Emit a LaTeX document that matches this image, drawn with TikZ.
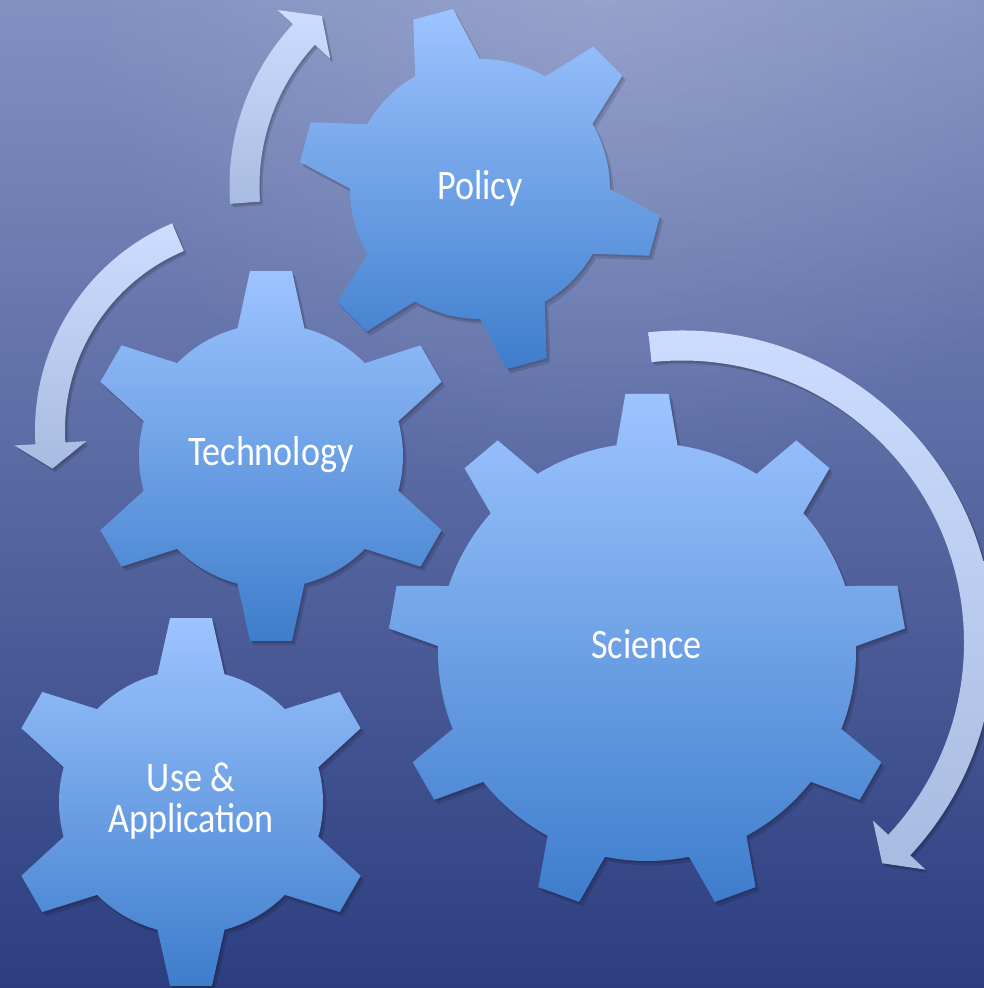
\documentclass[tikz,border=0pt]{standalone}
\usepackage{fontspec}
\setmainfont{Carlito}[FakeStretch=0.86]
\usetikzlibrary{fadings}
\tikzfading[name=glowfade, inner color=transparent!0, outer color=transparent!100]
\definecolor{bgtop}{RGB}{130,145,194}
\definecolor{bgmid}{RGB}{92,108,162}
\definecolor{bgbot}{RGB}{44,62,128}
\definecolor{gtop}{RGB}{157,196,255}
\definecolor{gbot}{RGB}{62,125,204}
\definecolor{atop}{RGB}{204,222,255}
\definecolor{abot}{RGB}{168,187,224}
\tikzset{
  geartext/.style={text=white, font=\fontsize{42}{40.5}\selectfont, inner sep=0pt, align=center},
  arrowfill/.style={top color=atop, bottom color=abot},
  shadowfill/.style={fill=black, opacity=0.13}
}
% gear outline around the current origin: r, R, n, start angle, base half-angle, outer half-angle
\newcommand\gearpath[6]{%
  ({#4-#5}:#1pt)
  \foreach \k in {1,...,#3}{
    -- ({#4+(\k-1)*360/#3-#6}:#2pt)
    -- ({#4+(\k-1)*360/#3+#6}:#2pt)
    -- ({#4+(\k-1)*360/#3+#5}:#1pt)
    arc[start angle={#4+(\k-1)*360/#3+#5}, end angle={#4+\k*360/#3-#5}, radius=#1pt]
  } -- cycle}
\newcommand\drawgear[8]{%
  \begin{scope}[shift={(#1+3.5,#2-4.5)}]\fill[shadowfill] \gearpath{#3}{#4}{#5}{#6}{#7}{#8};\end{scope}
  \begin{scope}[shift={(#1+1.5,#2-2)}]\fill[shadowfill] \gearpath{#3}{#4}{#5}{#6}{#7}{#8};\end{scope}
  \begin{scope}[shift={(#1,#2)}]\shade[top color=gtop, bottom color=gbot] \gearpath{#3}{#4}{#5}{#6}{#7}{#8};\end{scope}
}
% curved arrow around the current origin: rho, tail angle, head base angle, tip angle
\newcommand\arrowpath[4]{%
  (#2:{(#1+15)*1pt}) arc[start angle=#2, end angle=#3, radius={(#1+15)*1pt}]
  -- (#3:{(#1+36)*1pt}) -- (#4:{(#1+1)*1pt}) -- (#3:{(#1-36)*1pt}) -- (#3:{(#1-15)*1pt})
  arc[start angle=#3, end angle=#2, radius={(#1-15)*1pt}] -- cycle}
\newcommand\drawarrow[6]{%
  \begin{scope}[shift={(#1+3,#2-3.5)}]\fill[shadowfill] \arrowpath{#3}{#4}{#5}{#6};\end{scope}
  \begin{scope}[shift={(#1+1.5,#2-1.8)}]\fill[shadowfill] \arrowpath{#3}{#4}{#5}{#6};\end{scope}
  \begin{scope}[shift={(#1,#2)}]\shade[arrowfill] \arrowpath{#3}{#4}{#5}{#6};\end{scope}
}
\begin{document}
\begin{tikzpicture}[x=1pt, y=1pt]
  \useasboundingbox (0,0) rectangle (984,988);
  \shade[top color=bgtop, middle color=bgmid, bottom color=bgbot] (0,0) rectangle (984,988);
  \clip (0,0) rectangle (984,988);
  \fill[white, opacity=0.16, path fading=glowfade] (600,1000) circle (520pt);
  % gears
  \drawgear{480}{799}{130}{182}{6}{105}{14.9}{6.5}
  \drawgear{271}{532}{132}{186}{6}{90}{14.7}{6.5}
  \drawgear{191}{186}{132}{185}{6}{90}{14.7}{6.5}
  \drawgear{647}{336}{209}{259}{9}{90}{8.4}{4.8}
  % arrows
  \drawarrow{467.5}{802}{223}{184.3}{137.2}{130.6}
  \drawarrow{260}{557.5}{210}{113}{183.5}{190.4}
  \drawarrow{682}{345.5}{297}{96.2}{-43}{-47.8}
  % labels
  \node[geartext, anchor=base] (policy) at (480,788) {Policy};
  \node[geartext, anchor=base] (technology) at (271,522) {Technology};
  \node[geartext, anchor=base] (science) at (646.5,329) {Science};
  \node[geartext] (use) at (191,187) {Use \&\\Application};
\end{tikzpicture}
\end{document}
